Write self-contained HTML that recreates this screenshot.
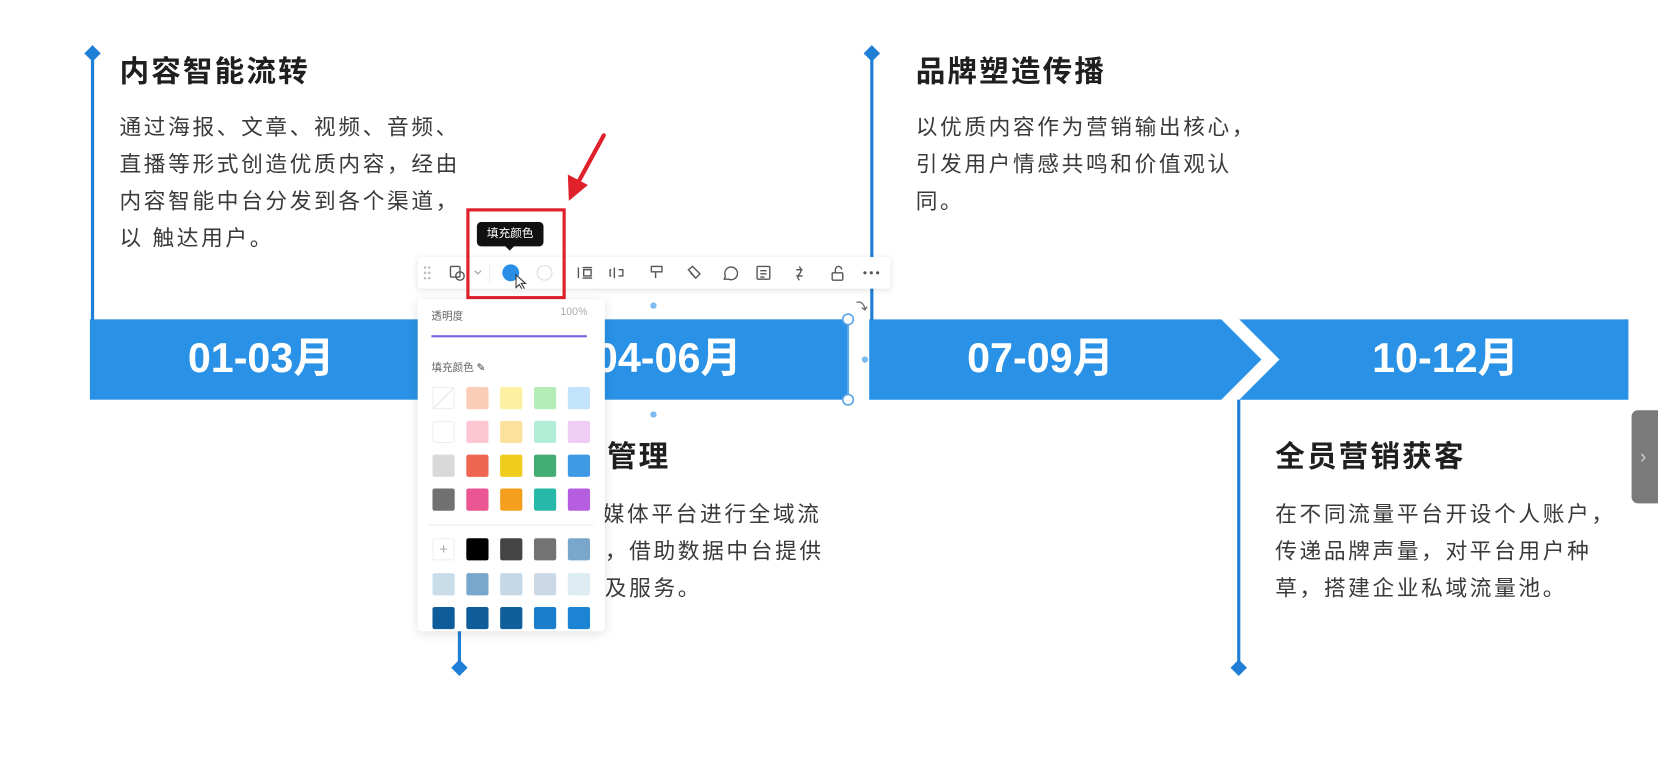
<!DOCTYPE html>
<html><head><meta charset="utf-8"><style>
html,body{margin:0;padding:0;width:1658px;height:776px;overflow:hidden;background:#fff;}
#w{position:absolute;left:0;top:0;width:1568px;height:734px;transform:scale(1.05740);transform-origin:0 0;font-family:"Liberation Sans","Noto Sans CJK SC",sans-serif;}
.a{position:absolute;}
.t{position:absolute;font-size:28px;font-weight:bold;color:#1f1f1f;letter-spacing:2px;white-space:nowrap;line-height:34px;}
.b{position:absolute;font-size:20.5px;color:#3a3a3a;letter-spacing:2.5px;line-height:35px;white-space:nowrap;}
.vl{position:absolute;width:3px;background:#1f7fd6;}
.dm{position:absolute;width:11px;height:11px;background:#1f7fd6;transform:rotate(45deg);}
.bt{position:absolute;top:302px;height:76px;line-height:76px;color:#fff;font-size:39px;font-weight:bold;text-align:center;}
.sw{position:absolute;width:21px;height:21px;border-radius:2px;}
</style></head><body><div id="w">
<svg class="a" style="left:0;top:0" width="1568" height="734">
<rect x="85" y="302" width="718" height="76" fill="#2992e6"/>
<polygon points="822,302 1155,302 1193,340 1155,378 822,378" fill="#2992e6"/>
<polygon points="1172,302 1540,302 1540,378 1172,378 1210,340" fill="#2992e6"/>
</svg>
<div class="vl" style="left:86px;top:50px;height:253px"></div>
<div class="dm" style="left:82px;top:45px"></div>
<div class="vl" style="left:823px;top:50px;height:253px"></div>
<div class="dm" style="left:819px;top:45px"></div>
<div class="vl" style="left:433px;top:378px;height:254px"></div>
<div class="dm" style="left:429px;top:626px"></div>
<div class="vl" style="left:1170px;top:378px;height:254px"></div>
<div class="dm" style="left:1166px;top:626px"></div>

<div class="t" style="left:113px;top:51px">内容智能流转</div>
<div class="b" style="left:113px;top:103px">通过海报、文章、视频、音频、<br>直播等形式创造优质内容，经由<br>内容智能中台分发到各个渠道，<br>以 触达用户。</div>
<div class="t" style="left:866px;top:51px">品牌塑造传播</div>
<div class="b" style="left:866px;top:103px">以优质内容作为营销输出核心，<br>引发用户情感共鸣和价值观认<br>同。</div>
<div class="t" style="left:514px;top:415px">全域管理</div>
<div class="b" style="left:501px;top:469px">通过多媒体平台进行全域流</div>
<div class="b" style="left:503px;top:504px">量运营，借助数据中台提供</div>
<div class="b" style="left:526px;top:539px">营销及服务。</div>
<div class="t" style="left:1206px;top:415px">全员营销获客</div>
<div class="b" style="left:1206px;top:469px">在不同流量平台开设个人账户，<br>传递品牌声量，对平台用户种<br>草，搭建企业私域流量池。</div>

<div class="bt" style="left:85px;width:324px">01-03月</div>
<div class="bt" style="left:480px;width:304px">04-06月</div>
<div class="bt" style="left:822px;width:324px">07-09月</div>
<div class="bt" style="left:1200px;width:334px">10-12月</div>

<svg class="a" style="left:0;top:0" width="1568" height="734">
<line x1="802" y1="302" x2="802" y2="378" stroke="#6aaee8" stroke-width="1.5"/>
<circle cx="802" cy="302" r="5" fill="#fff" stroke="#5aa4e6" stroke-width="1.5"/>
<circle cx="802" cy="378" r="5" fill="#fff" stroke="#5aa4e6" stroke-width="1.5"/>
<circle cx="618" cy="289" r="3" fill="#7cbcf0"/>
<circle cx="618" cy="392" r="3" fill="#7cbcf0"/>
<circle cx="818" cy="340" r="3" fill="#7cbcf0"/>
<path d="M810 286 q6 -2 8 6 m-3 -1 l3 2 l2 -3" fill="none" stroke="#666" stroke-width="1.2"/>
</svg>

<div class="a" style="left:1543px;top:388px;width:30px;height:88px;background:#7a7a7a;border-radius:6px 0 0 6px;color:#ccc;font-size:18px;line-height:88px;text-indent:8px;">›</div>

<div class="a" style="left:395px;top:243px;width:447px;height:30px;background:#fff;box-shadow:0 1px 6px rgba(0,0,0,0.12);border-radius:3px;"></div>
<svg class="a" style="left:395px;top:243px" width="447" height="30">
<g fill="#bbb"><circle cx="7" cy="10" r="1.2"/><circle cx="11" cy="10" r="1.2"/><circle cx="7" cy="15" r="1.2"/><circle cx="11" cy="15" r="1.2"/><circle cx="7" cy="20" r="1.2"/><circle cx="11" cy="20" r="1.2"/></g>
<g fill="none" stroke="#555" stroke-width="1.3">
<rect x="31" y="9" width="9" height="10" rx="1"/><circle cx="40" cy="18" r="4"/>
<path d="M54 13 l3 3 l3 -3" stroke="#aaa"/>
<path d="M152 10 v10 M156 10 h9 M156 20 h9 M157 12 h7 v6 h-7z"/>
<path d="M186 10 v10 M183 12 h-1 v6 h1 M190 12 h4 v6 h-4"/>
<path d="M221 9 h10 v5 h-10z M225 14 v6"/>
<path d="M256 12 l4 -3 l7 7 l-4 4 z M258 15 l5 5"/>
<path d="M290 21 l1 -3 a6 6 0 1 1 3 3 z"/>
<rect x="321" y="9" width="12" height="12" rx="1"/><path d="M324 13 h6 M324 16 h6 M324 19 h4"/>
<path d="M361 9 q3 4 0 7 q-3 3 0 6 M358 12 h6 M358 18 h6"/>
<rect x="392" y="15" width="10" height="7" rx="1"/><path d="M395 15 v-3 a3 3 0 0 1 6 0"/>
</g>
<g fill="#555"><circle cx="423" cy="15" r="1.5"/><circle cx="429" cy="15" r="1.5"/><circle cx="435" cy="15" r="1.5"/></g>
<line x1="68" y1="6" x2="68" y2="24" stroke="#eee"/>
<circle cx="88" cy="15" r="8" fill="#2a8de6"/>
<circle cx="120" cy="15" r="7" fill="none" stroke="#ddd"/>
<path d="M93 17 v12 l3 -3 l3 5 l2 -1 l-3 -5 h4 z" fill="#fff" stroke="#333" stroke-width="1"/>
</svg>

<div class="a" style="left:451px;top:210px;width:63px;height:23px;background:#111;border-radius:4px;color:#fff;font-size:11px;line-height:23px;text-align:center;">填充颜色</div>
<div class="a" style="left:477px;top:232px;width:0;height:0;border-left:5px solid transparent;border-right:5px solid transparent;border-top:5px solid #111;"></div>
<div class="a" style="left:441px;top:197px;width:88px;height:80px;border:3px solid #e0202a;"></div>
<svg class="a" style="left:0;top:0" width="1568" height="734">
<line x1="571" y1="128" x2="547" y2="172" stroke="#e0202a" stroke-width="4" stroke-linecap="round"/>
<polygon points="538,190 537,165 556,175" fill="#e0202a"/>
</svg>

<div class="a" style="left:395px;top:283px;width:177px;height:314px;background:#fff;box-shadow:0 2px 10px rgba(0,0,0,0.12);border-radius:4px;"></div>
<div class="a" style="left:408px;top:290px;font-size:10px;color:#666;">透明度</div>
<div class="a" style="left:530px;top:290px;font-size:10px;color:#aaa;">100%</div>
<div class="a" style="left:408px;top:317px;width:147px;height:2px;background:#7b5fe0;"></div>
<div class="a" style="left:408px;top:339px;font-size:10px;color:#666;">填充颜色 <span style="color:#333">✎</span></div>
<div class="a" style="left:405px;top:496px;width:157px;height:1px;background:#eee;"></div>
<div class="sw" style="left:409px;top:366px;border:1px solid #eee;width:19px;height:19px;background:linear-gradient(135deg,transparent 47%,#ddd 50%,transparent 53%)"></div>
<div class="sw" style="left:441px;top:366px;background:#f9cdb8"></div>
<div class="sw" style="left:473px;top:366px;background:#fdf0a0"></div>
<div class="sw" style="left:505px;top:366px;background:#b5edb9"></div>
<div class="sw" style="left:537px;top:366px;background:#c3e3fa"></div>
<div class="sw" style="left:409px;top:398px;background:#fff;border:1px solid #eee;width:19px;height:19px"></div>
<div class="sw" style="left:441px;top:398px;background:#fec6d2"></div>
<div class="sw" style="left:473px;top:398px;background:#fbe29a"></div>
<div class="sw" style="left:505px;top:398px;background:#b1edd7"></div>
<div class="sw" style="left:537px;top:398px;background:#f0cdf5"></div>
<div class="sw" style="left:409px;top:430px;background:#d9d9d9"></div>
<div class="sw" style="left:441px;top:430px;background:#ee6651"></div>
<div class="sw" style="left:473px;top:430px;background:#f0cc1e"></div>
<div class="sw" style="left:505px;top:430px;background:#43ad73"></div>
<div class="sw" style="left:537px;top:430px;background:#3f9ae6"></div>
<div class="sw" style="left:409px;top:462px;background:#717171"></div>
<div class="sw" style="left:441px;top:462px;background:#ea5592"></div>
<div class="sw" style="left:473px;top:462px;background:#f59f1e"></div>
<div class="sw" style="left:505px;top:462px;background:#26b8a8"></div>
<div class="sw" style="left:537px;top:462px;background:#b65ee0"></div>
<div class="sw" style="left:409px;top:509px;border:1px solid #eee;width:19px;height:19px;color:#aaa;font-size:14px;line-height:19px;text-align:center">+</div>
<div class="sw" style="left:441px;top:509px;background:#000"></div>
<div class="sw" style="left:473px;top:509px;background:#444"></div>
<div class="sw" style="left:505px;top:509px;background:#737373"></div>
<div class="sw" style="left:537px;top:509px;background:#79a7cc"></div>
<div class="sw" style="left:409px;top:542px;background:#c9dcea"></div>
<div class="sw" style="left:441px;top:542px;background:#79a7cc"></div>
<div class="sw" style="left:473px;top:542px;background:#c5d8e8"></div>
<div class="sw" style="left:505px;top:542px;background:#cbd8e6"></div>
<div class="sw" style="left:537px;top:542px;background:#dcecf2"></div>
<div class="sw" style="left:409px;top:574px;background:#0e5c9a"></div>
<div class="sw" style="left:441px;top:574px;background:#0e5c9a"></div>
<div class="sw" style="left:473px;top:574px;background:#0e5f9c"></div>
<div class="sw" style="left:505px;top:574px;background:#1a7ecd"></div>
<div class="sw" style="left:537px;top:574px;background:#1b84d4"></div>
</div></body></html>
